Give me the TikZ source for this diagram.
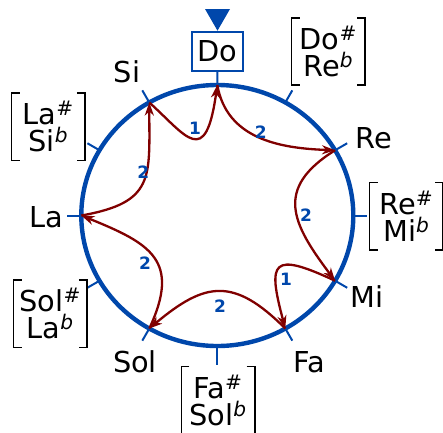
\documentclass[tikz,border=0pt]{standalone}
\usepackage{fontspec}
\setmainfont{DejaVu Sans}
\usetikzlibrary{arrows.meta}
\definecolor{dialblue}{RGB}{0,71,171}
\definecolor{stepred}{RGB}{128,0,0}
\newcommand\notefont{\fontsize{28.8}{26.7}\selectfont\setlength{\lineskiplimit}{-20pt}}
\tikzset{
  dial/.style     = {dialblue, line width=4.4},
  notetick/.style = {dialblue, line width=2},
  notelab/.style  = {font=\notefont, inner sep=0pt},
  accid/.style    = {notelab, align=center, minimum width=73, minimum height=67},
  brack/.style    = {black, line width=1.6},
  tonearr/.style  = {-{Stealth[length=13pt,width=9pt,inset=4pt]}, line width=2.3,
                     stepred},
  steplab/.style  = {font=\fontsize{17}{19}\selectfont\bfseries, text=dialblue,
                     inner sep=0pt},
}

\begin{document}
\begin{tikzpicture}[x=1pt, y=1pt]
  \useasboundingbox (-217.3,-216.5) rectangle (225.7,215.5);

  % the twelve places on the dial
  \foreach \n/\a in {do/90, dos/60, re/30, res/0, mi/-30, fa/-60, fas/-90,
                     sol/-120, sols/-150, la/180, las/150, si/120}
    \coordinate (\n) at (\a:136 and 130.5);

  \draw[dial] (0,0) ellipse [x radius=136, y radius=130.5];
  \foreach \a in {60, 30, 0, -30, -60, -120, -150, 180, 150, 120}
    \draw[notetick] (\a:136 and 130.5) -- (\a:150 and 144.5);
  \draw[notetick] (fas) -- ++(0,-19);

  % note names
  \node[notelab, draw=dialblue, line width=2, minimum width=51.6,
        minimum height=39] (dobox) at (0.2,164.3) {Do};
  \draw[notetick] (do) -- (dobox.south);
  \fill[dialblue] (dobox.north) -- ++(-12.5,21.7) -- ++(25,0) -- cycle;

  \node[notelab] (relab)  at (156.9, 77.5)   {Re};
  \node[notelab] (milab)  at (149.4, -80.8)  {Mi};
  \node[notelab] (falab)  at (91.7, -146.5)  {Fa};
  \node[notelab] (sollab) at (-82.3, -146.7) {Sol};
  \node[notelab] (lalab)  at (-170.6, -1.7)  {La};
  \node[notelab] (silab)  at (-90.3, 143.8)  {Si};

  \node[accid] (dosh)  at (111, 164)    {Do\textsuperscript{\#}\\Re\textsuperscript{\textit{b}}};
  \node[accid] (resh)  at (189, -0.8)   {Re\textsuperscript{\#}\\Mi\textsuperscript{\textit{b}}};
  \node[accid] (fash)  at (0.7, -184.7) {Fa\textsuperscript{\#}\\Sol\textsuperscript{\textit{b}}};
  \node[accid] (solsh) at (-167, -98.2) {Sol\textsuperscript{\#}\\La\textsuperscript{\textit{b}}};
  \node[accid] (lash)  at (-169, 88.8)  {La\textsuperscript{\#}\\Si\textsuperscript{\textit{b}}};
  \foreach \n in {dosh, resh, fash, solsh, lash} {
    \draw[brack] ([xshift=8]\n.north west) -- (\n.north west)
                 -- (\n.south west) -- ([xshift=8]\n.south west);
    \draw[brack] ([xshift=-8]\n.north east) -- (\n.north east)
                 -- (\n.south east) -- ([xshift=-8]\n.south east);
  }

  % steps of the scale
  \draw[tonearr] (do)  to[out=280, in=178, distance=55pt] (re);
  \draw[tonearr] (re)  to[out=212, in=127, distance=72pt] (mi);
  \draw[tonearr] (mi)  to[out=155, in=105, distance=70pt] (fa);
  \draw[tonearr] (fa)  to[out=135, in=40,  distance=73pt] (sol);
  \draw[tonearr] (sol) to[out=65,  in=338, distance=75pt] (la);
  \draw[tonearr] (la)  to[out=10,  in=270, distance=75pt] (si);
  \draw[tonearr] (si)  to[out=318, in=262, out distance=50pt, in distance=85pt] (do);

  \node[steplab] (s1) at (43.4, 83.8)   {2};
  \node[steplab] (s2) at (88.7, 0.5)    {2};
  \node[steplab] (s3) at (68.7, -63.8)  {1};
  \node[steplab] (s4) at (2.7, -90.5)   {2};
  \node[steplab] (s5) at (-72.3, -47.8) {2};
  \node[steplab] (s6) at (-74, 43.8)    {2};
  \node[steplab] (s7) at (-22.3, 87.2)  {1};
\end{tikzpicture}
\end{document}
